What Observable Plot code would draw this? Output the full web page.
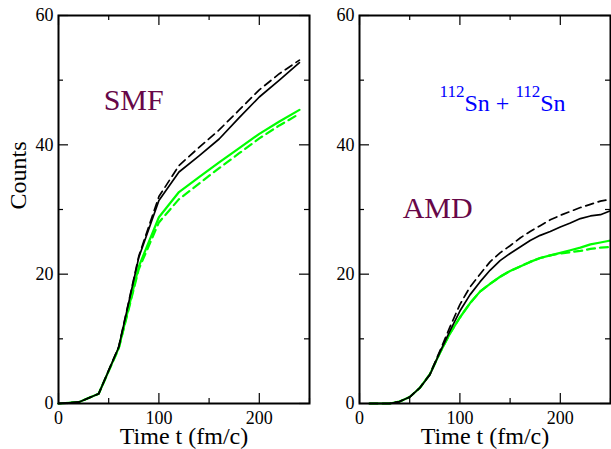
<!DOCTYPE html>
<html>
<head>
<meta charset="utf-8">
<script src="https://cdn.jsdelivr.net/npm/d3@7"></script>
<script src="https://cdn.jsdelivr.net/npm/@observablehq/plot@0.6"></script>
<style>
  html, body { margin: 0; padding: 0; background: white; }
  #row { display: flex; flex-direction: row; width: 611px; height: 449px; }
  #row svg, #row svg text { font-family: "Liberation Serif", "Times New Roman", serif !important; }
</style>
</head>
<body>
<div id="row"></div>
<script>
// ---- SMF panel (left) ----
const smfTime = [0, 20, 40, 60, 80, 100, 120, 140, 160, 180, 200, 220, 240];
const smfBlackSolid  = [0, 0.2, 1.5, 8.7, 22.6, 31.4, 35.8, 38.3, 40.9, 44.2, 47.4, 50.0, 52.7];
const smfBlackDashed = [0, 0.2, 1.5, 8.8, 22.8, 32.0, 36.8, 39.6, 42.3, 45.4, 48.5, 51.0, 53.1];
const smfGreenSolid  = [0, 0.2, 1.5, 8.6, 21.2, 28.8, 32.7, 35.0, 37.3, 39.5, 41.7, 43.6, 45.4];
const smfGreenDashed = [0, 0.2, 1.5, 8.5, 20.8, 28.0, 31.6, 34.0, 36.4, 38.7, 41.0, 43.0, 44.8];

// ---- AMD panel (right) ----
const amdTime = [10, 20, 30, 40, 50, 60, 70, 80, 90, 100, 110, 120, 130, 140, 150, 160, 170, 180, 190, 200, 210, 220, 230, 240, 250];
const amdBlackSolid  = [0, 0, 0, 0.3, 1.0, 2.4, 4.4, 7.9, 11.2, 14.3, 16.8, 18.8, 20.6, 22.1, 23.2, 24.2, 25.2, 26.0, 26.6, 27.3, 27.9, 28.6, 29.0, 29.2, 29.8];
const amdBlackDashed = [0, 0, 0, 0.3, 1.0, 2.4, 4.5, 8.1, 11.8, 15.3, 18.0, 20.0, 21.9, 23.3, 24.4, 25.6, 26.6, 27.5, 28.4, 29.1, 29.7, 30.3, 30.8, 31.3, 31.6];
const amdGreenSolid  = [0, 0, 0, 0.3, 1.0, 2.4, 4.5, 7.8, 10.8, 13.3, 15.5, 17.3, 18.5, 19.6, 20.5, 21.2, 21.9, 22.5, 22.9, 23.3, 23.7, 24.1, 24.6, 24.9, 25.2];
const amdGreenDashed = [0, 0, 0, 0.3, 1.0, 2.4, 4.5, 7.8, 10.8, 13.3, 15.5, 17.3, 18.5, 19.6, 20.5, 21.2, 21.9, 22.5, 22.9, 23.2, 23.4, 23.6, 23.9, 24.1, 24.2];

// ---- ticks & labels ----
const xMajorTicks = [0, 100, 200];
const xMinorTicks = [50, 150, 250];
const yMajorTicks = [0, 20, 40, 60];
const yMinorTicks = [10, 30, 50];
const xLabel = "Time t (fm/c)";
const yLabel = "Counts";
const smfText = "SMF";
const amdText = "AMD";
const reactionText = "112Sn + 112Sn";

const FONT = "Liberation Serif";
const maroon = "#670748";
const green = "#00ff00";
const H = 449, MT = 15, MB = 46;
const plotH = H - MT - MB;

function seriesRows(time, values) {
  return time.map((t, i) => ({t, v: values[i]}));
}

function panel({width, marginLeft, marginRight, series, annotations, showYLabel}) {
  const plotW = width - marginLeft - marginRight;
  const lines = series.map(s => Plot.line(seriesRows(s.time, s.values), {
    x: "t", y: "v", stroke: s.color, strokeWidth: s.width,
    strokeDasharray: s.dashed ? "8,5" : null, curve: "linear"
  }));
  const marks = [
    ...lines,
    Plot.tickX(xMajorTicks, {x: d => d, insetTop: plotH - 10, stroke: "black", strokeWidth: 1.2}),
    Plot.tickX(xMinorTicks, {x: d => d, insetTop: plotH - 5, stroke: "black", strokeWidth: 1.2}),
    Plot.tickX(xMajorTicks, {x: d => d, insetBottom: plotH - 10, stroke: "black", strokeWidth: 1.2}),
    Plot.tickX(xMinorTicks, {x: d => d, insetBottom: plotH - 5, stroke: "black", strokeWidth: 1.2}),
    Plot.tickY(yMajorTicks, {y: d => d, insetRight: plotW - 10, stroke: "black", strokeWidth: 1.2}),
    Plot.tickY(yMinorTicks, {y: d => d, insetRight: plotW - 5, stroke: "black", strokeWidth: 1.2}),
    Plot.tickY(yMajorTicks, {y: d => d, insetLeft: plotW - 10, stroke: "black", strokeWidth: 1.2}),
    Plot.tickY(yMinorTicks, {y: d => d, insetLeft: plotW - 5, stroke: "black", strokeWidth: 1.2}),
    Plot.axisX({ticks: xMajorTicks, tickSize: 0, tickPadding: 8, fontSize: 18, fontFamily: FONT, label: null}),
    Plot.axisY({ticks: yMajorTicks, tickSize: 0, tickPadding: 5, fontSize: 18, fontFamily: FONT, label: null}),
    Plot.frame({stroke: "black", strokeWidth: 2}),
    Plot.text([xLabel], {text: d => d, frameAnchor: "bottom", dy: 40, lineAnchor: "bottom", fontSize: 24, fontFamily: FONT, fill: "black"}),
    ...annotations
  ];
  if (showYLabel) {
    marks.push(Plot.text([yLabel], {text: d => d, frameAnchor: "left", dx: -40, rotate: -90, fontSize: 24, fontFamily: FONT, fill: "black"}));
  }
  const svg = Plot.plot({
    width, height: H,
    marginLeft, marginRight, marginTop: MT, marginBottom: MB,
    x: {domain: [0, 250], axis: null},
    y: {domain: [0, 60], axis: null},
    style: `font-family: '${FONT}', serif; font-size: 18px; background: white; overflow: visible;`,
    marks
  });
  svg.setAttribute("font-family", FONT);
  return svg;
}

const left = panel({
  width: 320, marginLeft: 58, marginRight: 11, showYLabel: true,
  series: [
    {time: smfTime, values: smfGreenDashed, color: green, width: 2.2, dashed: true},
    {time: smfTime, values: smfGreenSolid, color: green, width: 2.2, dashed: false},
    {time: smfTime, values: smfBlackDashed, color: "black", width: 1.7, dashed: true},
    {time: smfTime, values: smfBlackSolid, color: "black", width: 1.7, dashed: false}
  ],
  annotations: [
    Plot.text([smfText], {text: d => d, x: 45, y: 45.4, textAnchor: "start", lineAnchor: "bottom", fontSize: 30, fontFamily: FONT, fill: maroon})
  ]
});

const right = panel({
  width: 291, marginLeft: 39, marginRight: 1, showYLabel: false,
  series: [
    {time: amdTime, values: amdGreenDashed, color: green, width: 2.2, dashed: true},
    {time: amdTime, values: amdGreenSolid, color: green, width: 2.2, dashed: false},
    {time: amdTime, values: amdBlackDashed, color: "black", width: 1.7, dashed: true},
    {time: amdTime, values: amdBlackSolid, color: "black", width: 1.7, dashed: false}
  ],
  annotations: [
    Plot.text([amdText], {text: d => d, x: 43, y: 28.7, textAnchor: "start", lineAnchor: "bottom", fontSize: 30, fontFamily: FONT, fill: maroon}),
    Plot.text([reactionText], {text: d => d, x: 79.8, y: 45.2, textAnchor: "start", lineAnchor: "bottom", fontSize: 24, fontFamily: FONT, fill: "#0000ff"})
  ]
});

// render superscript mass numbers as real tspans
right.querySelectorAll("text").forEach(el => {
  if (el.textContent === reactionText) {
    const parts = [["112", true], ["Sn + ", false], ["112", true], ["Sn", false]];
    el.textContent = "";
    const ns = "http://www.w3.org/2000/svg";
    parts.forEach(([s, sup]) => {
      const ts = document.createElementNS(ns, "tspan");
      ts.textContent = s;
      ts.setAttribute("font-size", sup ? 17 : 24);
      ts.setAttribute("dy", sup ? -14 : 14);
      el.appendChild(ts);
    });
  }
});

const row = document.getElementById("row");
row.appendChild(left);
row.appendChild(right);
</script>
</body>
</html>
